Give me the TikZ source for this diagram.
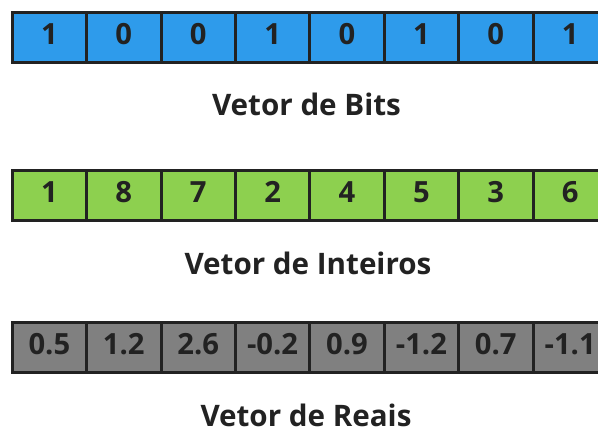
\documentclass[tikz,border=0pt]{standalone}
\usepackage{fontspec}
\setmainfont{Open Sans}[BoldFont={* Bold}]
\definecolor{bitblue}{HTML}{2E9BEB}
\definecolor{intgreen}{HTML}{8DD04F}
\definecolor{realgray}{HTML}{808080}
\definecolor{ink}{HTML}{222222}
\begin{document}
\begin{tikzpicture}[x=1pt,y=-1pt,
  cell/.style={draw=ink, line width=3pt, minimum width=74.4pt, minimum height=50.5pt,
    inner sep=0pt, text height=14.6pt, text depth=0pt, anchor=north west,
    font=\fontsize{29.2}{31}\selectfont\bfseries, text=ink},
  bitcell/.style={cell, fill=bitblue},
  intcell/.style={cell, fill=intgreen},
  realcell/.style={cell, fill=realgray},
  caption/.style={font=\fontsize{29.6}{32}\selectfont\bfseries, text=ink, inner sep=0pt, anchor=base}]
\useasboundingbox (0,0) rectangle (598,430);
\clip (0,0) rectangle (598,430);
% bit vector
\foreach \v [count=\i] in {1,0,0,1,0,1,0,1}
  \node[bitcell] (b\i) at ({10.7+74.4*(\i-1)},10.8) {\v};
\node[caption] (lb) at (306.5,116) {Vetor de Bits};
% integer vector
\foreach \v [count=\i] in {1,8,7,2,4,5,3,6}
  \node[intcell] (n\i) at ({10.7+74.4*(\i-1)},168.8) {\v};
\node[caption] (ln) at (308,275) {Vetor de Inteiros};
% real vector
\foreach \v [count=\i] in {0.5,1.2,2.6,-0.2,0.9,-1.2,0.7,-1.1}
  \node[realcell] (r\i) at ({10.7+74.4*(\i-1)},320.8) {\v};
\node[caption] (lr) at (306,426.3) {Vetor de Reais};
\end{tikzpicture}
\end{document}
